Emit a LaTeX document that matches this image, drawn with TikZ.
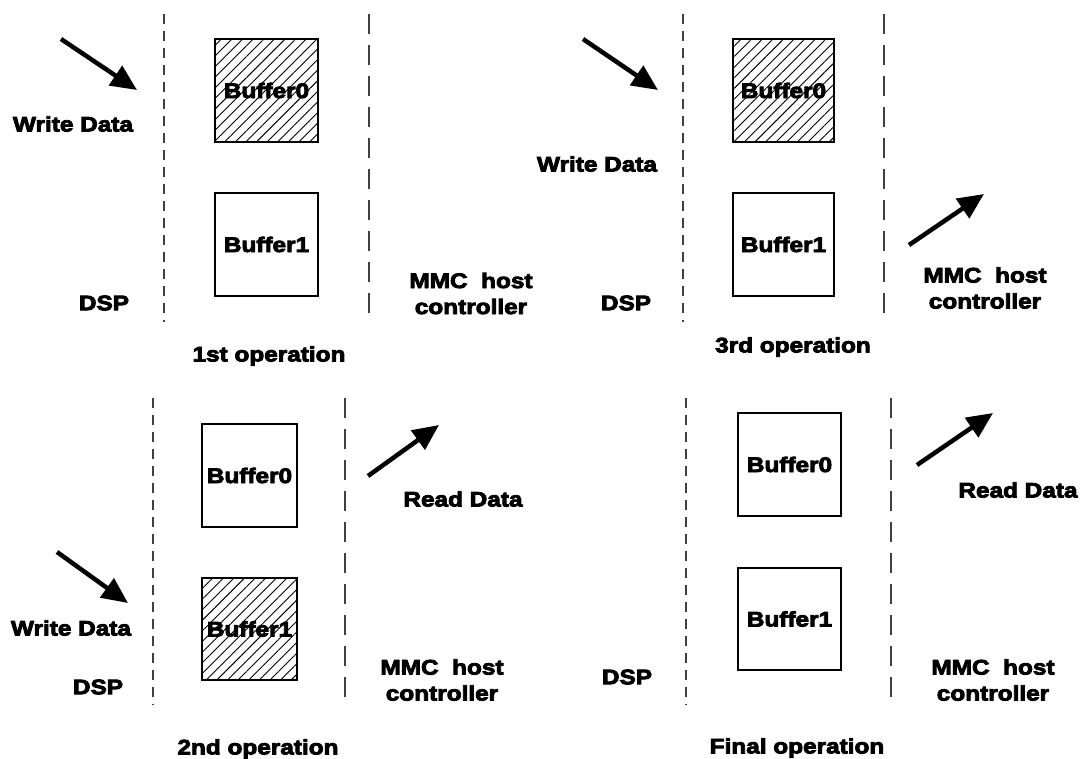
\documentclass[tikz,border=0pt]{standalone}
\usepackage{fontspec}
\setmainfont{Liberation Sans}[BoldFeatures={FakeBold=4,FakeStretch=1.16}]
\usetikzlibrary{arrows.meta,patterns.meta}

\tikzset{
  lbl/.style={font=\fontsize{21}{26}\selectfont\bfseries, inner sep=0pt, align=center},
  bufbox/.style={draw=black, line width=1.3pt, inner sep=0pt, font=\fontsize{21}{24}\selectfont\bfseries},
  busy/.style={bufbox, pattern={Lines[angle=45,distance=7.5pt,line width=0.9pt]}},
  dspline/.style={draw=black!75, line width=1.2pt, dash pattern=on 10pt off 7pt},
  mmcline/.style={draw=black!75, line width=1.4pt, dash pattern=on 20pt off 11pt},
  flow/.style={line width=4.5pt, -{Triangle[length=26pt,width=23pt]}}
}

\begin{document}
\begin{tikzpicture}[x=1pt, y=-1pt]
\useasboundingbox (0,0) rectangle (1084,759);

% ---------- 1st operation ----------
\draw[dspline] (164,14) -- (164,322);
\draw[mmcline] (369,14) -- (369,322);
\node[busy, minimum width=103pt, minimum height=103pt] (b0a) at (266.5,90.5) {Buffer0};
\node[bufbox, minimum width=103pt, minimum height=103pt] (b1a) at (266.5,244.5) {Buffer1};
\coordinate (wa0) at (61,39);
\coordinate (wa1) at (137,90);
\draw[flow] (wa0) -- (wa1);
\node[lbl] (wda) at (73,124) {Write Data};
\node[lbl] (dspa) at (104,303) {DSP};
\node[lbl] (mmca) at (471,293.5) {MMC~ host\\controller};
\node[lbl] (opa) at (269,356) {1st operation};

% ---------- 3rd operation ----------
\draw[dspline] (683,14) -- (683,322);
\draw[mmcline] (884,14) -- (884,322);
\node[busy, minimum width=101pt, minimum height=103pt] (b0c) at (783.5,90.5) {Buffer0};
\node[bufbox, minimum width=101pt, minimum height=103pt] (b1c) at (783.5,244.5) {Buffer1};
\coordinate (wc0) at (583,39);
\coordinate (wc1) at (658,90);
\draw[flow] (wc0) -- (wc1);
\node[lbl] (wdc) at (597,164) {Write Data};
\node[lbl] (dspc) at (626,303) {DSP};
\coordinate (rc0) at (909,245);
\coordinate (rc1) at (984,194);
\draw[flow] (rc0) -- (rc1);
\node[lbl] (mmcc) at (985,288) {MMC~ host\\controller};
\node[lbl] (opc) at (793,347) {3rd operation};

% ---------- 2nd operation ----------
\draw[dspline] (153,398) -- (153,705);
\draw[mmcline] (345,398) -- (345,705);
\node[bufbox, minimum width=95pt, minimum height=103pt] (b0b) at (249.5,475.5) {Buffer0};
\node[busy, minimum width=95pt, minimum height=102pt] (b1b) at (249.5,629) {Buffer1};
\coordinate (rb0) at (368,476);
\coordinate (rb1) at (439,425);
\draw[flow] (rb0) -- (rb1);
\node[lbl] (rdb) at (463,499) {Read Data};
\coordinate (wb0) at (57,552);
\coordinate (wb1) at (128,603);
\draw[flow] (wb0) -- (wb1);
\node[lbl] (wdb) at (71,628) {Write Data};
\node[lbl] (dspb) at (98,687) {DSP};
\node[lbl] (mmcb) at (442,680) {MMC~ host\\controller};
\node[lbl] (opb) at (258,749) {2nd operation};

% ---------- Final operation ----------
\draw[dspline] (686,398) -- (686,705);
\draw[mmcline] (891,398) -- (891,705);
\node[bufbox, minimum width=103pt, minimum height=103pt] (b0d) at (789.5,464.5) {Buffer0};
\node[bufbox, minimum width=103pt, minimum height=102pt] (b1d) at (789.5,619) {Buffer1};
\coordinate (rd0) at (917,465);
\coordinate (rd1) at (993,413);
\draw[flow] (rd0) -- (rd1);
\node[lbl] (rdd) at (1018,490) {Read Data};
\node[lbl] (dspd) at (627,677) {DSP};
\node[lbl] (mmcd) at (993,680) {MMC~ host\\controller};
\node[lbl] (opd) at (797,748) {Final operation};
\end{tikzpicture}
\end{document}
